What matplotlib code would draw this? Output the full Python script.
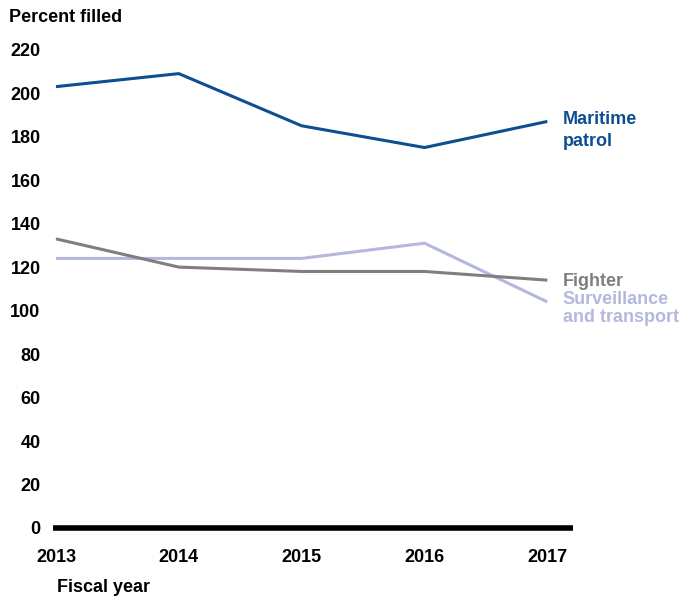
import matplotlib
matplotlib.use("Agg")
import matplotlib.pyplot as plt

years = [2013, 2014, 2015, 2016, 2017]
maritime = [203, 209, 185, 175, 187]
fighter = [133, 120, 118, 118, 114]
surveillance = [124, 124, 124, 131, 104]
yticks = [0, 20, 40, 60, 80, 100, 120, 140, 160, 180, 200, 220]

plt.rcParams['font.family'] = ['Liberation Sans', 'DejaVu Sans']
plt.rcParams['font.weight'] = 'bold'

c_mar = '#0d4f91'
c_fig = '#7f7f7f'
c_sur = '#b5b8de'
FS = 13

fig = plt.figure(figsize=(6.83, 5.98), dpi=100)
ax = fig.add_axes([53/683, 70/598, 520/683, 478.3/598])
ax.plot(years, surveillance, color=c_sur, lw=2.2, solid_capstyle='butt')
ax.plot(years, fighter, color=c_fig, lw=2.2, solid_capstyle='butt')
ax.plot(years, maritime, color=c_mar, lw=2.2, solid_capstyle='butt')

ax.set_xlim(2013 - 0.024, 2017.209)
ax.set_ylim(0, 220)
ax.set_xticks(years)
ax.set_xticklabels([str(y) for y in years])
ax.set_yticks(yticks)
for s in ['top', 'right', 'left']:
    ax.spines[s].set_visible(False)
ax.spines['bottom'].set_linewidth(4)
ax.spines['bottom'].set_color('black')
ax.spines['bottom'].set_capstyle('butt')
ax.tick_params(axis='both', length=0, labelsize=FS)
ax.tick_params(axis='y', pad=9)
ax.tick_params(axis='x', pad=15)
for lab in ax.get_xticklabels() + ax.get_yticklabels():
    lab.set_fontweight('bold')
ax.patch.set_visible(False)

fig.text(9/683, 1 - 17/598, 'Percent filled', fontsize=FS, fontweight='bold', va='center', ha='left')
fig.text(57/683, 1 - 587/598, 'Fiscal year', fontsize=FS, fontweight='bold', va='center', ha='left')

ax.annotate('Maritime\npatrol', xy=(years[-1], maritime[-1]), xytext=(10.8, -6.5), textcoords='offset points',
            color=c_mar, fontsize=FS, fontweight='bold', va='center', ha='left', linespacing=1.33)
ax.annotate('Fighter', xy=(years[-1], fighter[-1]), xytext=(11, -0.7), textcoords='offset points',
            color=c_fig, fontsize=FS, fontweight='bold', va='center', ha='left')
ax.annotate('Surveillance\nand transport', xy=(years[-1], surveillance[-1]), xytext=(11, -4.9), textcoords='offset points',
            color=c_sur, fontsize=FS, fontweight='bold', va='center', ha='left', linespacing=1.08)

fig.savefig('out.png', dpi=100)
